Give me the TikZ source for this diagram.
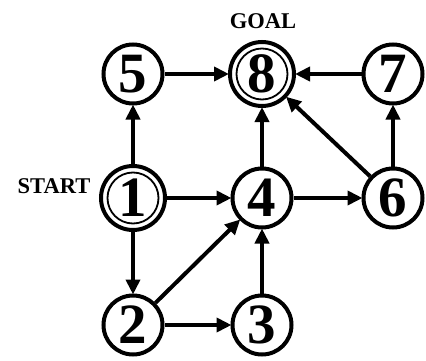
\documentclass[tikz,border=0pt]{standalone}
\usepackage{fontspec}
\setmainfont{Liberation Serif}
\usetikzlibrary{arrows.meta}
\begin{document}
\begin{tikzpicture}[x=1pt,y=-1pt,
  st/.style={circle,draw,line width=4pt,minimum size=59pt,inner sep=0pt,font=\fontsize{57}{57}\selectfont\bfseries},
  dst/.style={st,minimum size=64pt,
    append after command={\pgfextra{\draw[line width=1.8pt] (\tikzlastnode.center) circle (25.5pt);}}},
  lab/.style={font=\fontsize{22.5}{22.5}\selectfont\bfseries},
  ar/.style={-{Triangle[length=15pt,width=14pt]},line width=4pt,shorten >=-1pt}]
\useasboundingbox (0,0) rectangle (426,361);
\node[st] (n5) at (133,74) {5};
\node[dst] (n8) at (262,74) {8};
\node[st] (n7) at (393,74) {7};
\node[dst] (n1) at (133,198) {1};
\node[st] (n4) at (262,198) {4};
\node[st] (n6) at (393,198) {6};
\node[st] (n2) at (133,325) {2};
\node[st] (n3) at (262,325) {3};
\node[lab] (goal) at (263,21) {GOAL};
\node[lab] (start) at (54,186) {START};
\draw[ar] (n5) -- (n8);
\draw[ar] (n7) -- (n8);
\draw[ar] (n1) -- (n5);
\draw[ar] (n4) -- (n8);
\draw[ar] (n6) -- (n8);
\draw[ar] (n6) -- (n7);
\draw[ar] (n1) -- (n4);
\draw[ar] (n4) -- (n6);
\draw[ar] (n1) -- (n2);
\draw[ar] (n2) -- (n4);
\draw[ar] (n3) -- (n4);
\draw[ar] (n2) -- (n3);
\end{tikzpicture}
\end{document}
